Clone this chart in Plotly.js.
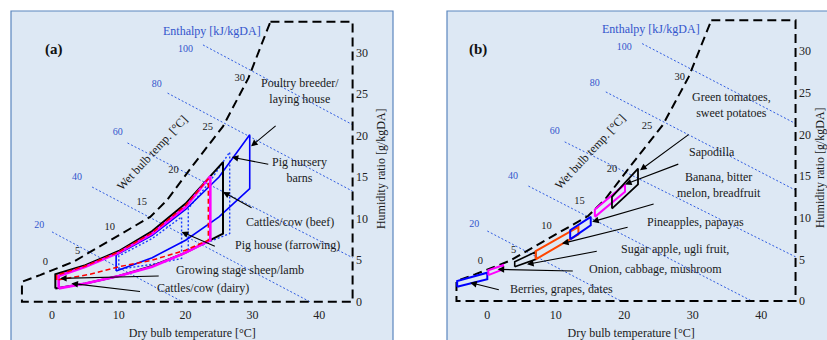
<!DOCTYPE html>
<html><head><meta charset="utf-8">
<script src="https://cdn.plot.ly/plotly-3.0.1.min.js"></script>
<style>html,body{margin:0;padding:0;background:#fff;}#chart{width:827px;height:340px;}</style>
</head><body><div id="chart"></div>
<script>
// ---------- data (T = dry bulb °C, W = humidity ratio g/kgDA) ----------
const xTicks = [0, 10, 20, 30, 40];
const yTicks = [0, 5, 10, 15, 20, 25, 30];

// saturation curve (dashed) and chart boundary
const satT = [-4.5, -1.8, 3.2, 9.7, 14.7, 17.2, 20.9, 25.6, 29.4, 32.7];
const satW = [2.4, 3.2, 4.8, 7.8, 10.2, 12.2, 16.2, 21.1, 26.9, 33.7];
const boundT = [32.7, 45, 45, -4.5, -4.5];
const boundW = [33.7, 33.7, 0, 0, 2.4];

// enthalpy lines
const enthalpyH = [20, 40, 60, 80, 100];
const enthT0 = [0, 6, 11.3, 17.3, 22.6];
const enthW0 = [8.4, 13.8, 19.1, 25.1, 30.9];
const enthT1 = [19.5, 38.6, 45, 45, 45];
const enthW1 = [0, 0, 5.3, 13.3, 21.3];
const enthLabelT = [-1.9, 3.75, 9.85, 15.7, 20.0];
const enthLabelW = [9.15, 14.95, 20.35, 26.1, 30.4];

// wet bulb temperature labels
const wbLabels = ['0', '5', '10', '15', '20', '25', '30'];
const wbT = [-1, 3.85, 8.65, 13.45, 18.2, 23.3, 28.1];
const wbW = [4.7, 6.1, 8.9, 12.0, 15.8, 21.0, 26.9];

// ---- panel (a): livestock ----
const beefT = [0.5, 0.5, 5, 10, 15, 20, 25.6, 25.6, 20, 15, 10, 5, 0.5];
const beefW = [1.6, 3.3, 4.4, 6.1, 8.5, 11.8, 16.8, 8.2, 5.9, 4.3, 3.1, 2.2, 1.6];
const dairyT = [1, 1, 5, 10, 15, 20, 23.7, 23.7, 20, 15, 10, 5, 1];
const dairyW = [1.6, 3.1, 4.2, 5.9, 8.2, 11.4, 15.1, 7.4, 5.9, 4.2, 3.1, 2.2, 1.6];
const sheepT = [0.7, 0.7, 5, 10, 15, 20, 23.4, 23.4, 20, 15, 10, 5.7, 0.7];
const sheepW = [2.6, 3.2, 4.3, 6.0, 8.3, 11.6, 14.8, 7.4, 6.2, 5.0, 4.2, 3.3, 2.6];
const poultryT = [9.6, 9.6, 15, 20, 25, 29.6, 29.6, 25, 20, 15, 9.6];
const poultryW = [3.7, 5.6, 8.0, 11.1, 15.0, 20.1, 13.6, 10.2, 7.4, 5.3, 3.7];
const farrowT = [10, 10, 15, 19.4, 19.4, 15, 10];
const farrowW = [3.9, 5.5, 7.6, 10.2, 5.2, 4.5, 3.9];
const nurseryT = [20.4, 20.4, 23.5, 26.6, 26.6, 20.4];
const nurseryW = [6.2, 11.2, 14.3, 18.0, 8.2, 6.2];

// ---- panel (b): produce ----
const berriesT = [-4.4, -4.4, 0, 0, -4.4];
const berriesW = [1.7, 2.4, 3.4, 2.6, 1.7];
const onionT = [0.15, 0.15, 2.3, 2.3, 0.15];
const onionW = [3.1, 3.7, 4.3, 3.8, 3.1];
const sugarT = [4.0, 4.0, 7.07, 7.07, 4.0];
const sugarW = [4.1, 4.7, 5.9, 5.0, 4.1];
const pineT = [7.07, 7.07, 13.3, 13.3, 7.07];
const pineW = [5.0, 6.0, 8.9, 8.0, 5.0];
const bananaT = [12.1, 12.1, 15.1, 15.1, 12.1];
const bananaW = [7.4, 8.5, 10.1, 9.1, 7.4];
const sapoT = [15.7, 15.7, 20.1, 20.1, 15.7];
const sapoW = [10.1, 11.0, 14.0, 13.1, 10.1];
const tomatoT = [18.2, 18.2, 22.0, 22.0, 18.2];
const tomatoW = [11.1, 12.5, 15.9, 14.0, 11.1];

// ---------- drawing ----------
const FONT = 'Liberation Serif, Times New Roman, serif';
const BLUE_TXT = '#3355cc';
const traces = [];
function line(xs, ys, ax, color, width, dash) {
  return {x: xs, y: ys, xaxis: ax[0], yaxis: ax[1], type: 'scatter', mode: 'lines',
    line: {color: color, width: width, dash: dash || 'solid'}, hoverinfo: 'skip', showlegend: false};
}
const axes = [['x', 'y'], ['x2', 'y2']];
axes.forEach(ax => {
  const ex = [], ey = [];
  enthalpyH.forEach((h, i) => { ex.push(enthT0[i], enthT1[i], null); ey.push(enthW0[i], enthW1[i], null); });
  traces.push(line(ex, ey, ax, '#2f5be0', 1, '2px,2px'));
  traces.push(line(boundT.concat(satT.slice(1)), boundW.concat(satW.slice(1)), ax, '#000', 2, '9px,5px'));
  traces.push({x: enthLabelT, y: enthLabelW, xaxis: ax[0], yaxis: ax[1], type: 'scatter', mode: 'text',
    text: enthalpyH.map(String), textfont: {family: FONT, size: 10, color: BLUE_TXT}, hoverinfo: 'skip', showlegend: false, cliponaxis: false});
  traces.push({x: wbT, y: wbW, xaxis: ax[0], yaxis: ax[1], type: 'scatter', mode: 'text',
    text: wbLabels, textfont: {family: FONT, size: 10.5, color: '#222'}, hoverinfo: 'skip', showlegend: false, cliponaxis: false});
});
const A = axes[0], B = axes[1];
traces.push(line(farrowT, farrowW, A, '#1a3cff', 1.4, '2px,2px'));
traces.push(line(nurseryT, nurseryW, A, '#1a3cff', 1.4, '2px,2px'));
traces.push(line(poultryT, poultryW, A, '#0000ff', 1.6));
traces.push(line(beefT, beefW, A, '#000000', 2));
traces.push(line(dairyT, dairyW, A, '#ff00ff', 2.6));
traces.push(line(sheepT, sheepW, A, '#ff0000', 1.5, '5px,3px'));

traces.push(line(berriesT, berriesW, B, '#0000ff', 2));
traces.push(line(onionT, onionW, B, '#ff00ff', 2));
traces.push(line(sugarT, sugarW, B, '#000000', 1.6));
traces.push(line(pineT, pineW, B, '#ff4500', 2));
traces.push(line(bananaT, bananaW, B, '#0000ff', 2));
traces.push(line(sapoT, sapoW, B, '#ff00ff', 2));
traces.push(line(tomatoT, tomatoW, B, '#000000', 1.8));

const annotations = [];
function label(ax, x, y, text) {
  annotations.push({xref: ax[0], yref: ax[1], x: x, y: y, text: text, showarrow: false,
    font: {family: FONT, size: 12, color: '#1a1a1a'}});
}
function arrow(ax, tx, ty, hx, hy) {
  annotations.push({xref: ax[0], yref: ax[1], axref: ax[0], ayref: ax[1], x: hx, y: hy, ax: tx, ay: ty,
    text: '', showarrow: true, arrowhead: 2, arrowsize: 1.2, arrowwidth: 1.1, arrowcolor: '#000'});
}
axes.forEach(ax => {
  annotations.push({xref: ax[0], yref: ax[1], x: 23.9, y: 32.6, text: 'Enthalpy [kJ/kgDA]', showarrow: false,
    font: {family: FONT, size: 12, color: BLUE_TXT}});
  annotations.push({xref: ax[0], yref: ax[1], x: 15, y: 17.85, text: 'Wet bulb temp. [°C]', showarrow: false,
    textangle: -47, font: {family: FONT, size: 12, color: '#1a1a1a'}});
});
annotations.push({xref: 'paper', yref: 'paper', x: 43 / 827, y: 1 - 39 / 340, text: '<b>(a)</b>', showarrow: false,
  font: {family: FONT, size: 15, color: '#111'}});
annotations.push({xref: 'paper', yref: 'paper', x: 478 / 827, y: 1 - 39 / 340, text: '<b>(b)</b>', showarrow: false,
  font: {family: FONT, size: 15, color: '#111'}});

label(A, 37.1, 25.4, 'Poultry breeder/<br>laying house');
label(A, 37.0, 15.85, 'Pig nursery<br>barns');
label(A, 35.6, 9.6, 'Cattles/cow (beef)');
label(A, 35.2, 6.8, 'Pig house (farrowing)');
label(A, 28.1, 3.8, 'Growing stage sheep/lamb');
label(A, 22.6, 1.6, 'Cattles/cow (dairy)');
arrow(A, 33.7, 21.3, 29.8, 18.7);
arrow(A, 32.6, 16.5, 26.9, 17.4);
arrow(A, 30.1, 11.2, 25.6, 13.2);
arrow(A, 24.6, 6.6, 19.4, 8.4);
arrow(A, 16.2, 3.1, 1.2, 2.8);
arrow(A, 13.4, 1.2, 2.9, 2.2);

label(B, 35.7, 23.5, 'Green tomatoes,<br>sweet potatoes');
label(B, 32.8, 17.85, 'Sapodilla');
label(B, 33.8, 13.9, 'Banana, bitter<br>melon, breadfruit');
label(B, 30.4, 9.5, 'Pineapples, papayas');
label(B, 27.4, 6.2, 'Sugar apple, ugli fruit,');
label(B, 24.6, 3.8, 'Onion, cabbage, mushroom');
label(B, 10.9, 1.5, 'Berries, grapes, dates');
arrow(B, 29.6, 20.1, 22.3, 15.7);
arrow(B, 28.1, 16.5, 20.1, 14.0);
arrow(B, 24.5, 11.7, 15.3, 9.5);
arrow(B, 20.7, 8.9, 10.9, 6.9);
arrow(B, 16.2, 6.0, 5.8, 4.4);
arrow(B, 12.7, 3.6, 1.5, 3.8);
arrow(B, 1.9, 1.3, -2.5, 2.2);

function xAxis(domain, pos) {
  return {domain: domain, range: [-6, 48], anchor: 'free', position: pos, tickvals: xTicks, ticks: '',
    showgrid: false, zeroline: false, showline: false, fixedrange: true,
    tickfont: {family: FONT, size: 12, color: '#222'},
    title: {text: 'Dry bulb temperature [°C]', standoff: 7, font: {family: FONT, size: 12, color: '#1a1a1a'}}};
}
function yAxis(domain, pos) {
  return {domain: domain, range: [-3, 35], anchor: 'free', position: pos, side: 'right', tickvals: yTicks, ticks: '',
    showgrid: false, zeroline: false, showline: false, fixedrange: true,
    tickfont: {family: FONT, size: 12, color: '#222'},
    title: {text: 'Humidity ratio [g/kgDA]', standoff: 9, font: {family: FONT, size: 12, color: '#1a1a1a'}}};
}
const layout = {
  width: 827, height: 340, margin: {l: 0, r: 0, t: 0, b: 0},
  paper_bgcolor: '#ffffff', plot_bgcolor: 'rgba(0,0,0,0)',
  font: {family: FONT, size: 12, color: '#1a1a1a'}, showlegend: false,
  xaxis: xAxis([11.92 / 827, 372.64 / 827], 1 - 306 / 340),
  yaxis: yAxis([1 - 326.63 / 340, 1 - 10.85 / 340], 355 / 827),
  xaxis2: xAxis([446.2 / 827, 816.1 / 827], 1 - 306 / 340),
  yaxis2: yAxis([1 - 325.99 / 340, 1 - 9.45 / 340], 798 / 827),
  shapes: [
    {type: 'rect', xref: 'paper', yref: 'paper', x0: 11 / 827, x1: 393 / 827, y0: -0.1, y1: 1 - 11 / 340,
      fillcolor: '#dde8f4', line: {color: '#5b86be', width: 1.2}, layer: 'below'},
    {type: 'rect', xref: 'paper', yref: 'paper', x0: 447 / 827, x1: 1.1, y0: -0.1, y1: 1 - 11 / 340,
      fillcolor: '#dde8f4', line: {color: '#5b86be', width: 1.2}, layer: 'below'}
  ],
  annotations: annotations
};
Plotly.newPlot('chart', traces, layout, {staticPlot: true, displayModeBar: false});
</script></body></html>
